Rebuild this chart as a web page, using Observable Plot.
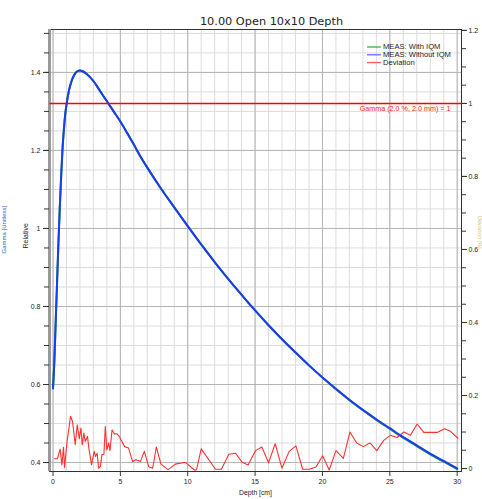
<!DOCTYPE html>
<html><head><meta charset="utf-8">
<script src="https://cdn.jsdelivr.net/npm/d3@7"></script>
<script src="https://cdn.jsdelivr.net/npm/@observablehq/plot@0.6"></script>
<style>
body{margin:0;background:#fff;}
#c{position:relative;width:482px;height:499px;overflow:hidden;}
</style>
</head><body><div id="c"></div>
<script>
const title = "10.00 Open 10x10 Depth";
const xLabel = "Depth [cm]";
const yLabel = "Relative";
const yLabel2 = "Gamma [Unitless]";
const yLabelRight = "Deviation [%]";
const legendLabels = ["MEAS: With IQM", "MEAS: Without IQM", "Deviation"];
const gammaLevel = 1;
const gammaLabel = "Gamma (2.0 %, 2.0 mm) = 1";

const depthCurve = [0,0.1,0.2,0.3,0.4,0.5,0.6,0.7,0.8,0.9,1.0,1.2,1.4,1.6,1.8,2.0,2.2,2.5,3.0,3.5,4.0,4.5,5,5.5,6,6.5,7,8,9,10,11,12,13,14,15,16,17,18,19,20,21,22,23,24,25,26,27,28,29,30];
const relWithout = [0.59,0.66,0.76,0.86,0.96,1.05,1.13,1.2,1.25,1.29,1.317,1.356,1.380,1.395,1.403,1.405,1.403,1.396,1.378,1.352,1.326,1.300,1.274,1.245,1.215,1.184,1.156,1.103,1.054,1.006,0.959,0.914,0.871,0.830,0.790,0.752,0.716,0.682,0.649,0.618,0.589,0.561,0.535,0.511,0.488,0.465,0.444,0.423,0.404,0.385];
const relWith = [0.59,0.66,0.76,0.86,0.96,1.05,1.13,1.2,1.25,1.29,1.317,1.356,1.380,1.395,1.403,1.405,1.403,1.396,1.378,1.352,1.326,1.300,1.274,1.245,1.215,1.184,1.156,1.103,1.054,1.006,0.959,0.914,0.871,0.830,0.790,0.752,0.716,0.682,0.649,0.618,0.588,0.560,0.534,0.509,0.486,0.463,0.442,0.421,0.402,0.383];

const devDepth = [0.11,0.33,0.53,0.66,0.78,0.86,1.03,1.30,1.45,1.65,1.80,1.95,2.07,2.17,2.29,2.39,2.56,2.66,2.86,3.06,3.16,3.28,3.38,3.51,3.63,3.78,3.88,4.00,4.13,4.23,4.38,4.55,4.74,4.92,5.32,5.61,5.91,6.16,6.48,6.78,7.10,7.40,7.67,8.01,8.54,9.08,9.83,10.5,10.65,11.0,12.06,12.5,13.05,13.55,14.04,14.48,15.03,15.5,16.0,16.49,16.99,17.53,18.03,18.53,19.02,19.52,20.01,20.5,21.0,21.55,22.04,22.54,23.03,23.53,24.03,24.55,25.04,25.54,26.04,26.53,27.03,27.52,28.02,28.51,29.06,29.5,30.05];
const devValue = [0.027,0.027,0.053,0.010,0.058,0.003,0.070,0.143,0.129,0.065,0.120,0.082,0.111,0.065,0.097,0.074,0.088,0.056,0.010,0.047,0.033,0.042,0.001,0.005,0.038,0.039,0.115,0.051,0.070,0.049,0.106,0.095,0.095,0.088,0.060,0.056,0.019,0.024,0.019,0.047,0.005,0.001,0.059,0.012,-0.003,0.012,0.017,-0.004,-0.004,0.054,-0.002,-0.002,0.039,0.042,0.017,0.010,0.049,0.059,0.016,0.068,0.001,0.047,0.062,-0.002,-0.002,0.004,0.035,-0.004,0.049,0.028,0.100,0.070,0.060,0.070,0.049,0.077,0.091,0.085,0.100,0.091,0.122,0.099,0.099,0.099,0.109,0.102,0.083];

const xTicks = [0,5,10,15,20,25,30];
const leftTicks = [0.4,0.6,0.8,1,1.2,1.4];
const rightTicks = [0,0.2,0.4,0.6,0.8,1,1.2];

// layout: right axis mapped onto the left scale
const rOffset = 0.3846, rScale = 0.9359;
const toLeft = r => rOffset + r * rScale;
const xDomain = [-0.26, 30.32];
const yDomain = [0.377, 1.51];
const fmt = d3.format("~g");

const curveWithout = depthCurve.map((d, i) => ({d, v: relWithout[i]}));
const curveWith = depthCurve.map((d, i) => ({d, v: relWith[i]}));
const dev = devDepth.map((d, i) => ({d, v: devValue[i]}));
const gammaRow = [{x0: xDomain[0], x1: xDomain[1], g: gammaLevel}];

const xMinor = d3.range(0, 31, 1);
const yMinor = d3.range(0, 23).map(i => +(0.4 + i * 0.05).toFixed(2));
const rMinor = d3.range(0, 25).map(i => +(i * 0.05).toFixed(2));

const chart = Plot.plot({
  width: 482, height: 499,
  marginTop: 29, marginBottom: 28, marginLeft: 49, marginRight: 21,
  x: {domain: xDomain, label: null},
  y: {domain: yDomain, label: null},
  style: {fontFamily: "'Liberation Sans', Arial, sans-serif", fontSize: "7px", color: "#222", background: "#fff", overflow: "visible"},
  marks: [
    Plot.gridX(xMinor, {stroke: "#dcdcdc", strokeOpacity: 1}),
    Plot.gridY(yMinor, {stroke: "#dcdcdc", strokeOpacity: 1}),
    Plot.gridX(xTicks, {stroke: "#b4b4b4", strokeOpacity: 1}),
    Plot.gridY(leftTicks, {stroke: "#b4b4b4", strokeOpacity: 1}),
    Plot.frame({stroke: "#333"}),
    Plot.ruleX([xDomain[0]], {stroke: "#999", strokeWidth: 3}),
    Plot.axisY(yMinor, {anchor: "left", tickSize: 5, tickFormat: () => "", stroke: "#333"}),
    Plot.axisY(leftTicks, {anchor: "left", tickSize: 6, tickPadding: 3, tickFormat: fmt, stroke: "#333", fill: "#222"}),
    Plot.axisY(rMinor.map(toLeft), {anchor: "right", tickSize: 4, tickFormat: () => "", stroke: "#333"}),
    Plot.axisY(rightTicks.map(toLeft), {anchor: "right", tickSize: 5, tickPadding: 2, tickFormat: v => fmt(+((v - rOffset) / rScale).toFixed(2)), stroke: "#333", fill: "#222"}),
    Plot.axisX(xTicks, {anchor: "bottom", tickSize: 5, tickPadding: 3, tickFormat: fmt, stroke: "#333", fill: "#222"}),
    Plot.text([gammaLabel], {frameAnchor: "right", y: () => toLeft(gammaLevel), text: d => d, textAnchor: "end", dx: -11, dy: 5, fill: "#ff1a1a", fontSize: 7.2}),
    Plot.line(dev, {x: "d", y: d => toLeft(d.v), stroke: "#ff3030", strokeWidth: 1.1}),
    Plot.line(curveWith, {x: "d", y: "v", stroke: "#2ca02c", strokeWidth: 2, curve: "monotone-x"}),
    Plot.line(curveWithout, {x: "d", y: "v", stroke: "#1a3cf2", strokeWidth: 2, curve: "monotone-x"}),
    Plot.link(gammaRow, {x1: "x0", x2: "x1", y1: d => toLeft(d.g), y2: d => toLeft(d.g), stroke: "red", strokeWidth: 1.4}),
    Plot.text([title], {frameAnchor: "top", text: d => d, dx: 16, dy: -13, fontSize: 11.3, fontFamily: "'DejaVu Sans', Verdana, sans-serif", fill: "#222"}),
    Plot.text([xLabel], {frameAnchor: "bottom", text: d => d, dy: 23, fontSize: 6.8, fill: "#222"}),
    Plot.text([yLabel], {frameAnchor: "left", text: d => d, rotate: -90, dx: -24, dy: -2, fontSize: 7, fill: "#222"}),
    Plot.text([yLabel2], {frameAnchor: "left", text: d => d, rotate: -90, dx: -45, dy: 3, fontSize: 6, fill: "#1f5fc8"}),
    Plot.text([yLabelRight], {frameAnchor: "right", text: d => d, rotate: 90, dx: 18.5, dy: -2, fontSize: 5.5, fill: "#d8c070"})
  ]
});

// legend inside the frame, top-right
const legendColors = ["#3cb043", "#6a6aff", "#ff5a5a"];
const svg = d3.select(chart);
const lg = svg.append("g").attr("font-family", "'Liberation Sans', Arial, sans-serif").attr("font-size", 7.6).attr("fill", "#222").attr("text-anchor", "start");
legendLabels.forEach((t, i) => {
  const y = 47 + i * 7.8;
  lg.append("line").attr("x1", 367).attr("x2", 381).attr("y1", y).attr("y2", y)
    .attr("stroke", legendColors[i]).attr("stroke-width", 1.3);
  lg.append("text").attr("x", 383).attr("y", y).attr("dy", "0.32em").text(t);
});

document.getElementById("c").appendChild(chart);
</script>
</body></html>
